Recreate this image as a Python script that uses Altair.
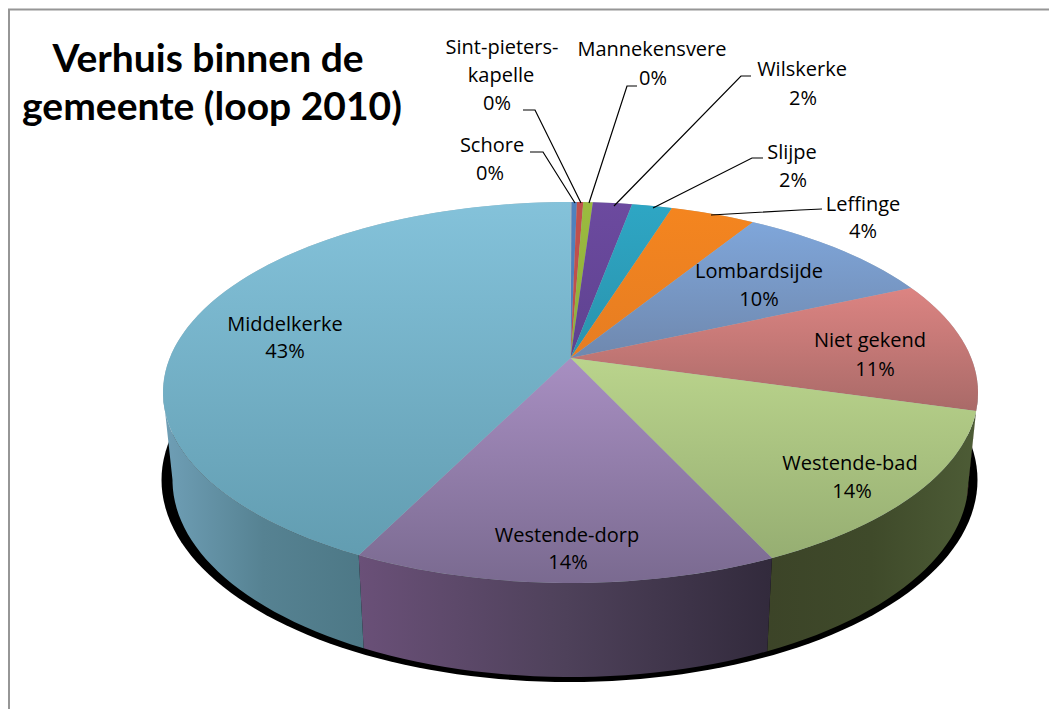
import math
import altair as alt
import pandas as pd

# ---- data
names = ["Schore", "Sint-pieters-kapelle", "Mannekensvere", "Wilskerke", "Slijpe", "Leffinge",
         "Lombardsijde", "Niet gekend", "Westende-bad", "Westende-dorp", "Middelkerke"]
shares = [0.25, 0.3, 0.45, 1.85, 1.9, 4.0, 9.5, 11.1, 13.7, 14.2, 42.7]
pct_labels = ["0%", "0%", "0%", "2%", "2%", "4%", "10%", "11%", "14%", "14%", "43%"]

# top-face colours at the upper / lower end of the picture range (y_a, y_b)
top_colours = [
    ("#4f81bd", "#4f81bd", 202, 358), ("#c0504d", "#c0504d", 202, 358),
    ("#9bbb3f", "#8fae3a", 202, 358), ("#6c4a9f", "#5e4290", 202, 358),
    ("#2ea6c4", "#2a93ad", 202, 358), ("#f5851f", "#e67d22", 202, 358),
    ("#7fa6da", "#6f88ae", 222, 358), ("#dd8583", "#a96a68", 285, 410),
    ("#bad48c", "#96ae72", 358, 558), ("#a88fc2", "#7a6a90", 358, 583),
    ("#84c2da", "#5f9aae", 202, 583),
]
wall_colours = {
    "Middelkerke": ["#6f9fb6", "#568292", "#4d7886"],
    "Westende-dorp": ["#6a5078", "#4e415a", "#322a3c"],
    "Westende-bad": ["#3c4428", "#3f4a2a", "#4d5c36"],
    "Niet gekend": ["#7a4a48", "#7a4a48"],
}

title_lines = [("Verhuis binnen de", 208, 72), ("gemeente (loop 2010)", 212, 120)]
label_rows = [
    ("Sint-pieters-", 502, 54), ("kapelle", 501, 82), ("0%", 497, 110),
    ("Schore", 492, 152), ("0%", 490, 180),
    ("Mannekensvere", 652, 56), ("0%", 653, 85),
    ("Wilskerke", 802, 76), ("2%", 803, 105),
    ("Slijpe", 792, 159), ("2%", 793, 187),
    ("Leffinge", 863, 211), ("4%", 863, 238),
    ("Lombardsijde", 759, 278), ("10%", 759, 306),
    ("Niet gekend", 870, 347), ("11%", 875, 376),
    ("Westende-bad", 850, 470), ("14%", 852, 498),
    ("Westende-dorp", 567, 542), ("14%", 568, 569),
    ("Middelkerke", 285, 331), ("43%", 285, 358),
]
leaders = [
    [(530, 152), (543, 152), (575, 203)],
    [(523, 110), (535, 110), (581, 203)],
    [(637, 86), (627, 86), (589, 203)],
    [(751, 76), (741, 76), (614, 206)],
    [(763, 158), (752, 158), (653, 208)],
    [(822, 209), (800, 210), (711, 215)],
]

# ---- geometry of the drawing (picture pixels)
CX, TOP_CY, RX, RY = 570.5, 392.5, 407.5, 190.5
APEX = 0.181
BOT_CY, BOT_RX, BOT_RY = 480, 398, 197
SH_CY, SH_RX, SH_RY = 480, 408, 202
OX, OY = 8, 8
W, H = 1041, 701


def rim(share):
    t = 2 * math.pi * share / 100
    u, v = math.sin(t), math.cos(t)
    d = 1 + APEX * v
    return u * math.sqrt(1 - APEX ** 2) / d, (v + APEX) / d


def px(x, y):
    return [x - OX, y - OY]


def top_pt(u, v):
    return CX + RX * u, TOP_CY - RY * v


def mix(a, b, f):
    f = max(0, min(1, f))
    ca = [int(a[i:i + 2], 16) for i in (1, 3, 5)]
    cb = [int(b[i:i + 2], 16) for i in (1, 3, 5)]
    return "#%02x%02x%02x" % tuple(round(p + (q - p) * f) for p, q in zip(ca, cb))


def shape(points):
    ring = [px(*p) for p in points]
    ring.append(ring[0])
    return {"type": "Feature", "properties": {}, "geometry": {"type": "Polygon", "coordinates": [ring]}}


PROJ = alt.Projection(type="identity", scale=1, translate=[0, 0])


def poly(points, fill):
    return alt.Chart(alt.Data(values=[shape(points)])).mark_geoshape(fill=fill, strokeWidth=0, stroke="transparent").project(**PROJ.to_dict())


def vgrad(c0, c1):
    return alt.Gradient(gradient="linear", x1=0, x2=0, y1=0, y2=1,
                        stops=[alt.GradientStop(color=c0, offset=0), alt.GradientStop(color=c1, offset=1)])


def hgrad(cols):
    n = len(cols) - 1
    return alt.Gradient(gradient="linear", x1=0, x2=1, y1=0, y2=0,
                        stops=[alt.GradientStop(color=c, offset=i / n) for i, c in enumerate(cols)])


layers = []
# black shadow below the pie
layers.append(poly([(CX - 1 + SH_RX * math.sin(math.radians(a)), SH_CY + SH_RY * math.cos(math.radians(a)))
                    for a in range(0, 360, 2)], "#000000"))

# slices
cum = [0.05]
for s in shares:
    cum.append(cum[-1] + s)

walls, tops = [], []
for i, name in enumerate(names):
    a, b = cum[i], min(cum[i + 1], 100.05)
    steps = max(2, int((b - a) * 2))
    rims = [rim(a + (b - a) * k / steps) for k in range(steps + 1)]
    pts = [top_pt(*r) for r in rims]

    # side wall: only the part of the rim at the front
    if name in wall_colours:
        front = [r for r in rims if r[1] <= 0.0 + 1e-9]
        if name == "Middelkerke":
            front = front + [(-1.0, 0.0)]
        if name == "Niet gekend":
            front = [(1.0, 0.0)] + front
        if len(front) >= 2:
            up = [top_pt(*r) for r in front]
            down = [(CX + BOT_RX * r[0], BOT_CY - BOT_RY * r[1]) for r in reversed(front)]
            walls.append(poly(up + down, hgrad(wall_colours[name])))

    # top face
    outline = [(CX, TOP_CY - RY * APEX)] + pts
    ys = [p[1] for p in outline]
    c_a, c_b, y_a, y_b = top_colours[i]
    g = vgrad(mix(c_a, c_b, (min(ys) - y_a) / (y_b - y_a)), mix(c_a, c_b, (max(ys) - y_a) / (y_b - y_a)))
    tops.append(poly(outline, g))

# pale disc under the top faces, so that no dark hairline shows between two slices
disc = poly([top_pt(math.sin(math.radians(a)), math.cos(math.radians(a))) for a in range(0, 360, 2)], "#a9b7bd")
layers += walls + [disc] + tops

xs = alt.Scale(domain=[OX, OX + W], range=[0, W])
ys_ = alt.Scale(domain=[OY, OY + H], range=[0, H])

# frame
frame = pd.DataFrame({"x": [9, 9, 1049], "y": [709, 9.5, 9.5], "o": [0, 1, 2]})
layers.append(alt.Chart(frame).mark_line(color="#969696", strokeWidth=2).encode(
    x=alt.X("x:Q", scale=xs, axis=None), y=alt.Y("y:Q", scale=ys_, axis=None), order=alt.Order("o:Q")))

# leader lines
lead = pd.DataFrame([{"id": i, "o": k, "x": p[0], "y": p[1]} for i, l in enumerate(leaders) for k, p in enumerate(l)])
layers.append(alt.Chart(lead).mark_line(color="#000000", strokeWidth=1.2).encode(
    x=alt.X("x:Q", scale=xs, axis=None), y=alt.Y("y:Q", scale=ys_, axis=None),
    detail="id:N", order=alt.Order("o:Q")))

labels = pd.DataFrame(label_rows, columns=["t", "x", "y"])
layers.append(alt.Chart(labels).mark_text(font="Open Sans", fontSize=20, color="#000000", align="center", baseline="alphabetic").encode(
    x=alt.X("x:Q", scale=xs, axis=None), y=alt.Y("y:Q", scale=ys_, axis=None), text="t:N"))

titles = pd.DataFrame(title_lines, columns=["t", "x", "y"])
layers.append(alt.Chart(titles).mark_text(font="Lato", fontSize=39, fontWeight="bold", color="#000000", align="center", baseline="alphabetic").encode(
    x=alt.X("x:Q", scale=xs, axis=None), y=alt.Y("y:Q", scale=ys_, axis=None), text="t:N"))

chart = alt.layer(*layers).resolve_scale(x="shared", y="shared").properties(
    width=W, height=H, padding=0, autosize=alt.AutoSizeParams(type="none"), background="#ffffff"
).configure_view(stroke=None)

chart.save("out.html", embed_options={"renderer": "svg", "actions": False})
